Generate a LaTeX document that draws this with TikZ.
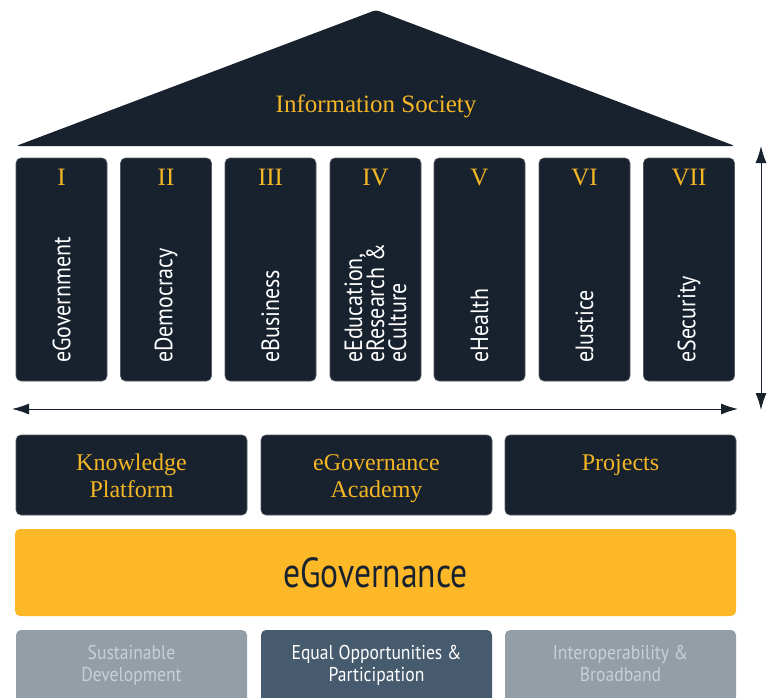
\documentclass[tikz,border=0pt]{standalone}
\usepackage{fontspec}
\setmainfont{Liberation Serif}
\newfontfamily\dinfont[FakeStretch=0.88]{PT Sans}
\newfontfamily\dincond[FakeStretch=0.8]{PT Sans}
\usetikzlibrary{arrows.meta}

\definecolor{navy}{HTML}{18222E}
\definecolor{gold}{HTML}{F4B625}
\definecolor{barfill}{HTML}{FDB827}
\definecolor{slate}{HTML}{475B6E}
\definecolor{greybox}{HTML}{939EA7}
\definecolor{greytext}{HTML}{C9D0D5}

\tikzset{
  pillar/.style={fill=navy, draw=navy!75!white, line width=0.6pt, rounded corners=5pt,
    minimum width=91pt, minimum height=223pt, inner sep=0pt},
  numeral/.style={text=gold, font=\fontsize{25}{27}\selectfont},
  pillartext/.style={text=white, align=left, inner sep=0pt,
    font=\dinfont\fontsize{25}{22}\selectfont},
  pillarbox/.style={fill=navy, draw=navy!75!white, line width=0.6pt, rounded corners=5pt,
    minimum width=231pt, minimum height=80pt, inner sep=0pt},
  boxtext/.style={text=gold, align=center, inner sep=0pt,
    font=\fontsize{24}{27}\selectfont},
  basebox/.style={rounded corners=5pt, minimum width=231pt, minimum height=80pt, inner sep=0pt},
  basetext/.style={align=center, inner sep=0pt, font=\dinfont\fontsize{20}{22}\selectfont},
  twoway/.style={navy, line width=1pt, {Latex[length=17pt,width=11pt]}-{Latex[length=17pt,width=11pt]}}
}

\begin{document}
\begin{tikzpicture}[x=1pt, y=-1pt]
\clip (0,0) rectangle (779,697);
\useasboundingbox (0,0) rectangle (779,697);

\fill[navy, rounded corners=3pt] (16,146) -- (376,10) -- (735,146) -- cycle;
\node[text=gold, font=\fontsize{25}{27}\selectfont] (society) at (376,106) {Information Society};

\foreach \x/\r/\t [count=\i] in {61.5/I/eGovernment, 166/II/eDemocracy, 270.5/III/eBusiness,
    375.5/IV/{eEducation,\\eResearch \&\\eCulture}, 479.5/V/eHealth, 584.5/VI/eJustice, 689/VII/eSecurity}
{
  \node[pillar] (p\i) at (\x,269.5) {};
  \node[numeral] (n\i) at (\x,177) {\r};
  \node[pillartext, rotate=90, anchor=west] (t\i) at (\x,363) {\t};
}

\coordinate (hl) at (12,409);
\coordinate (hr) at (738,409);
\draw[twoway] (hl) -- (hr);
\coordinate (vt) at (761,146);
\coordinate (vb) at (761,410);
\draw[twoway] (vt) -- (vb);

\node[pillarbox] (know) at (131.5,475) {};
\node[pillarbox] (acad) at (376.5,475) {};
\node[pillarbox] (proj) at (620.5,475) {};
\node[boxtext, anchor=north] (knowtext) at (131.5,454) {Knowledge\\Platform};
\node[boxtext, anchor=north] (acadtext) at (376.5,454) {eGovernance\\Academy};
\node[boxtext, anchor=north] (projtext) at (620.5,454) {Projects};

\node[fill=barfill, rounded corners=5pt, minimum width=721pt, minimum height=87pt,
  font=\dincond\fontsize{42}{46}\selectfont, text=navy] (egov) at (375.5,572.5) {eGovernance};

\node[basebox, fill=greybox] (sust) at (131.5,670) {};
\node[basebox, fill=slate] (equal) at (376.5,670) {};
\node[basebox, fill=greybox] (inter) at (620.5,670) {};
\node[basetext, text=greytext, anchor=north] (susttext) at (131.5,645) {Sustainable\\Development};
\node[basetext, text=white, anchor=north] (equaltext) at (376.5,645) {Equal Opportunities \&\\Participation};
\node[basetext, text=greytext, anchor=north] (intertext) at (620.5,645) {Interoperability \&\\Broadband};

\end{tikzpicture}
\end{document}
